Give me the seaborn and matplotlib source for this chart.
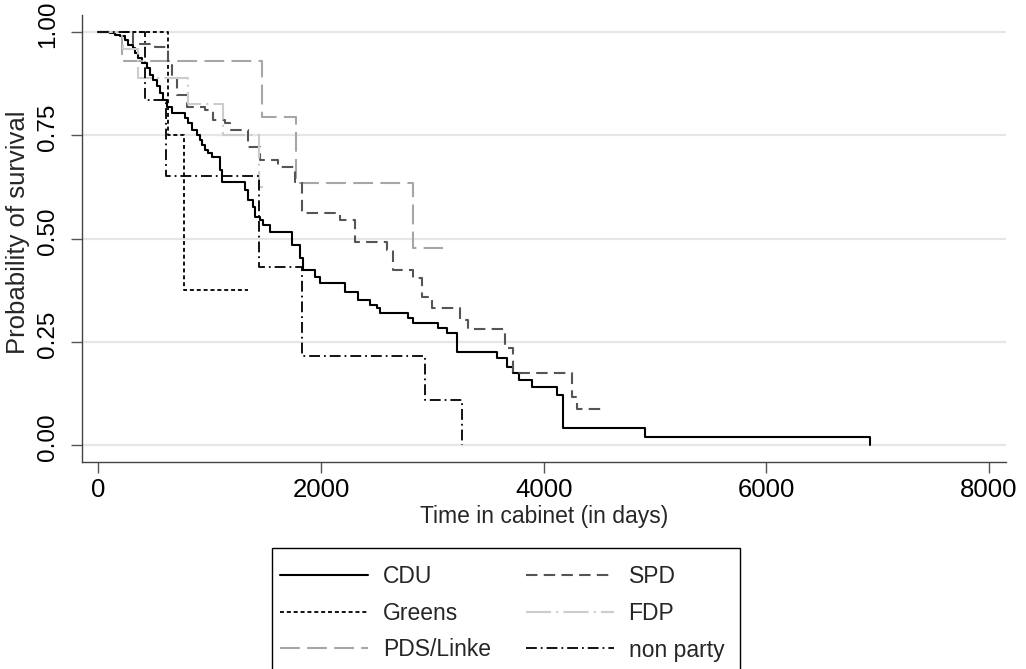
import matplotlib
matplotlib.use("Agg")
import matplotlib.pyplot as plt
import matplotlib.transforms as mtransforms
from matplotlib.lines import Line2D
from matplotlib.patches import Rectangle
import seaborn as sns
import pandas as pd

# ---------------- data (Kaplan-Meier steps) ----------------
cdu_days = [0, 105, 149, 194, 239, 266, 311, 329, 356, 392, 437, 463, 490, 526, 553, 580,
            616, 661, 777, 804, 840, 885, 912, 930, 957, 984, 1020, 1091, 1109, 1316, 1342,
            1387, 1405, 1450, 1477, 1540, 1737, 1809, 1836, 1943, 1988, 2213, 2329, 2437,
            2500, 2527, 2778, 2823, 3047, 3136, 3226, 3585, 3675, 3720, 3782, 3899, 4123,
            4177, 4910, 6935]
cdu_surv = [1.0, 0.998, 0.993, 0.990, 0.981, 0.969, 0.961, 0.949, 0.937, 0.925, 0.913,
            0.896, 0.884, 0.869, 0.852, 0.835, 0.818, 0.804, 0.792, 0.780, 0.763, 0.751,
            0.738, 0.726, 0.714, 0.707, 0.697, 0.666, 0.637, 0.617, 0.593, 0.576, 0.552,
            0.545, 0.533, 0.516, 0.484, 0.453, 0.424, 0.407, 0.392, 0.370, 0.351, 0.339,
            0.332, 0.320, 0.308, 0.295, 0.283, 0.271, 0.225, 0.211, 0.189, 0.174, 0.157,
            0.140, 0.121, 0.041, 0.019, 0.0]

spd_days = [0, 312, 509, 626, 662, 707, 797, 958, 1030, 1138, 1183, 1344, 1452, 1614, 1767,
            1830, 2171, 2306, 2593, 2647, 2827, 2907, 2997, 3249, 3320, 3653, 3724, 4254,
            4299, 4552]
spd_surv = [1.0, 0.971, 0.964, 0.927, 0.889, 0.847, 0.818, 0.811, 0.787, 0.780, 0.763,
            0.722, 0.690, 0.673, 0.637, 0.562, 0.545, 0.492, 0.472, 0.424, 0.404, 0.358,
            0.332, 0.303, 0.281, 0.235, 0.174, 0.116, 0.087, 0.087]

greens_days = [0, 623, 770, 1344]
greens_surv = [1.0, 0.75, 0.375, 0.375]

fdp_days = [0, 223, 357, 806, 1120, 1443, 1479]
fdp_surv = [1.0, 0.96, 0.889, 0.826, 0.751, 0.625, 0.625]

pds_days = [0, 213, 1470, 1776, 2827, 3096]
pds_surv = [1.0, 0.930, 0.794, 0.634, 0.477, 0.477]

nonparty_days = [0, 419, 608, 1443, 1830, 2934, 3266]
nonparty_surv = [1.0, 0.835, 0.651, 0.431, 0.215, 0.109, 0.0]

x_ticks = [0, 2000, 4000, 6000, 8000]
y_ticks = [0.0, 0.25, 0.5, 0.75, 1.0]
y_ticklabels = ["0.00", "0.25", "0.50", "0.75", "1.00"]

# ---------------- style ----------------
sns.set_theme(style="white")
plt.rcParams["font.family"] = ["Liberation Sans", "DejaVu Sans"]

series = [
    ("CDU", cdu_days, cdu_surv, "black", "-", 1.5),
    ("Greens", greens_days, greens_surv, "black", (0, (2.2, 1.6)), 1.3),
    ("PDS/Linke", pds_days, pds_surv, "#a6a6a6", (0, (9.5, 3.5)), 1.5),
    ("SPD", spd_days, spd_surv, "#555555", (0, (5.5, 3.0)), 1.5),
    ("FDP", fdp_days, fdp_surv, "#cccccc", (0, (12, 2.5, 1, 2.5)), 1.5),
    ("non party", nonparty_days, nonparty_surv, "black", (0, (6, 2.2, 1, 2.2)), 1.3),
]

fig = plt.figure(figsize=(10.26, 6.69), dpi=100)
W, H = 1026, 669
ax = fig.add_axes([81.7 / W, (H - 461.7) / H, (1006 - 81.7) / W, (461.7 - 15) / H])

handles = []
for name, d, s, col, ls, lw in series:
    df = pd.DataFrame({"days": d, "surv": s})
    sns.lineplot(data=df, x="days", y="surv", ax=ax, color=col, linestyle=ls, lw=lw,
                 drawstyle="steps-post", estimator=None, sort=False, legend=False)
    handles.append(Line2D([0], [0], color=col, linestyle=ls, lw=lw))

ax.set_xlim(-149, 8152)
ax.set_ylim(-0.0404, 1.0412)
ax.set_xticks(x_ticks)
ax.set_yticks(y_ticks)
ax.set_yticklabels(y_ticklabels, rotation=90, va="center")
ax.yaxis.grid(True, color="#e6e6e6", lw=1.6)
ax.xaxis.grid(False)
ax.set_axisbelow(True)

for side in ["top", "right"]:
    ax.spines[side].set_visible(False)
for side in ["left", "bottom"]:
    ax.spines[side].set_color("#444444")
    ax.spines[side].set_linewidth(1.0)

ax.tick_params(axis="both", which="major", direction="out", length=8, width=1.0,
               color="#555555", labelcolor="black", left=True, bottom=True)
ax.tick_params(axis="x", labelsize=18.5, pad=4)
ax.tick_params(axis="y", labelsize=17.5, pad=8)

offset = mtransforms.ScaledTranslation(0, 7.5 / 100, fig.dpi_scale_trans)
for lab in ax.get_yticklabels():
    lab.set_transform(lab.get_transform() + offset)

ax.set_xlabel("Time in cabinet (in days)", fontsize=16.5, labelpad=2)
ax.set_ylabel("Probability of survival", fontsize=18.5)
ax.yaxis.set_label_coords((30 - 81.7) / (1006 - 81.7), 0.513)

labels = [s[0] for s in series]
leg = fig.legend(handles, labels, ncol=2, loc="upper left",
                 bbox_to_anchor=(280 / W, 1 - 565 / H), bbox_transform=fig.transFigure,
                 frameon=False, fontsize=16.5,
                 handlelength=3.85, handletextpad=0.65, columnspacing=1.5,
                 labelspacing=0.6, borderpad=0, borderaxespad=0)

# legend box (its lower part falls outside the image, as in the reference)
fig.patches.append(Rectangle((272 / W, -0.05), (740 - 272) / W, (H - 548) / H + 0.05,
                             transform=fig.transFigure, fill=False, edgecolor="black",
                             lw=1.0, zorder=5))

fig.savefig("out.png", dpi=100)
